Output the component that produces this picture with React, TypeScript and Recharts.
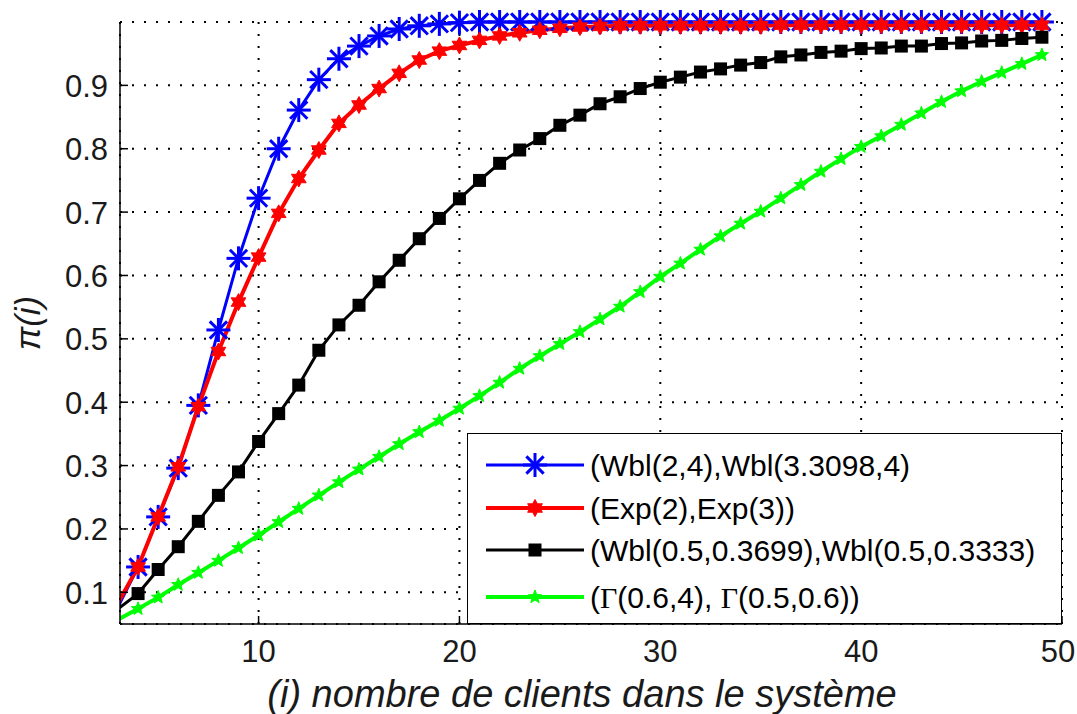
import { CartesianGrid, Legend, Line, LineChart, XAxis, YAxis } from "recharts";

// number of clients i in the system
const clients = [
  3, 4, 5, 6, 7, 8, 9, 10, 11, 12, 13, 14, 15, 16, 17, 18, 19, 20, 21, 22, 23, 24, 25, 26,
  27, 28, 29, 30, 31, 32, 33, 34, 35, 36, 37, 38, 39, 40, 41, 42, 43, 44, 45, 46, 47, 48, 49,
];

// π(i) for each pair of laws
const wblShort = [
  0.077, 0.14, 0.219, 0.296, 0.395, 0.514, 0.627, 0.722, 0.8, 0.861, 0.909, 0.942, 0.962, 0.978,
  0.989, 0.994, 0.997, 0.999, 1, 1, 1, 1, 1, 1, 1, 1, 1, 1, 1, 1, 1, 1, 1, 1, 1, 1, 1, 1, 1, 1, 1,
  1, 1, 1, 1, 1, 1,
];
const expo = [
  0.083, 0.14, 0.219, 0.298, 0.393, 0.48, 0.558, 0.629, 0.698, 0.753, 0.798, 0.84, 0.869, 0.895,
  0.919, 0.94, 0.954, 0.963, 0.971, 0.978, 0.983, 0.987, 0.99, 0.992, 0.993, 0.994, 0.994, 0.994,
  0.994, 0.994, 0.994, 0.994, 0.994, 0.995, 0.995, 0.995, 0.995, 0.995, 0.995, 0.995, 0.995,
  0.995, 0.995, 0.995, 0.995, 0.995, 0.995,
];
const wblHeavy = [
  0.074, 0.098, 0.136, 0.172, 0.212, 0.253, 0.29, 0.338, 0.382, 0.427, 0.482, 0.522, 0.553, 0.59,
  0.624, 0.658, 0.69, 0.721, 0.75, 0.777, 0.798, 0.816, 0.837, 0.853, 0.871, 0.882, 0.895, 0.905,
  0.913, 0.921, 0.926, 0.932, 0.936, 0.945, 0.948, 0.952, 0.954, 0.958, 0.959, 0.962, 0.962,
  0.966, 0.967, 0.97, 0.971, 0.974, 0.976,
];
const gamma = [
  0.057, 0.074, 0.092, 0.112, 0.131, 0.15, 0.17, 0.19, 0.211, 0.232, 0.253, 0.274, 0.294, 0.314,
  0.334, 0.353, 0.371, 0.39, 0.41, 0.431, 0.453, 0.473, 0.492, 0.511, 0.531, 0.551, 0.574, 0.598,
  0.619, 0.641, 0.662, 0.682, 0.701, 0.722, 0.743, 0.764, 0.784, 0.803, 0.82, 0.838, 0.856,
  0.874, 0.891, 0.906, 0.92, 0.934, 0.948,
];

const seriesNames = [
  "(Wbl(2,4),Wbl(3.3098,4)",
  "(Exp(2),Exp(3))",
  "(Wbl(0.5,0.3699),Wbl(0.5,0.3333)",
  "(Γ(0.6,4), Γ(0.5,0.6))",
];

const xTicks = [10, 20, 30, 40, 50];
const yTicks = [0.1, 0.2, 0.3, 0.4, 0.5, 0.6, 0.7, 0.8, 0.9];

const X_MIN = 3.1;
const FONT = '"Liberation Sans", Arial, Helvetica, sans-serif';
const BLUE = "#0000ff";
const RED = "#ff0000";
const GREEN = "#00ff00";

const data = clients.map((i, k) => ({
  i,
  wbl: wblShort[k],
  exp: expo[k],
  wblh: wblHeavy[k],
  gam: gamma[k],
}));

const series = [
  { key: "wbl", color: BLUE, width: 3, marker: "asterisk" },
  { key: "exp", color: RED, width: 4, marker: "hexagram" },
  { key: "wblh", color: "#000000", width: 3, marker: "square" },
  { key: "gam", color: GREEN, width: 4, marker: "pentagram" },
];

function starPoints(cx: number, cy: number, n: number, ro: number, ri: number) {
  const pts: string[] = [];
  for (let k = 0; k < n * 2; k++) {
    const r = k % 2 === 0 ? ro : ri;
    const a = -Math.PI / 2 + (k * Math.PI) / n;
    pts.push(`${cx + r * Math.cos(a)},${cy + r * Math.sin(a)}`);
  }
  return pts.join(" ");
}

function Marker({ kind, cx, cy }: { kind: string; cx: number; cy: number }) {
  if (kind === "asterisk") {
    const r = 12;
    const d = r * 0.72;
    return (
      <g stroke={BLUE} strokeWidth={3}>
        <line x1={cx - r} y1={cy} x2={cx + r} y2={cy} />
        <line x1={cx} y1={cy - r} x2={cx} y2={cy + r} />
        <line x1={cx - d} y1={cy - d} x2={cx + d} y2={cy + d} />
        <line x1={cx - d} y1={cy + d} x2={cx + d} y2={cy - d} />
      </g>
    );
  }
  if (kind === "hexagram") {
    return <polygon points={starPoints(cx, cy, 6, 8.5, 4.8)} fill={RED} stroke={RED} strokeWidth={1} />;
  }
  if (kind === "square") {
    return <rect x={cx - 6.5} y={cy - 6.5} width={13} height={13} fill="#000" />;
  }
  return <polygon points={starPoints(cx, cy, 5, 7, 3)} fill={GREEN} stroke={GREEN} strokeWidth={1} />;
}

// markers left of the visible x range are not drawn
const markerDot = (kind: string) => (props: any) => {
  const { cx, cy, payload, index } = props;
  if (cx == null || cy == null || payload.i < X_MIN) return <g key={`m-${index}`} />;
  return <Marker key={`m-${index}`} kind={kind} cx={cx} cy={cy} />;
};

const TICK_STROKE = { stroke: "#000", strokeWidth: 1.5 };

const BottomTick = ({ x, y, payload }: any) => (
  <g>
    <line x1={x} y1={y} x2={x} y2={y - 8} {...TICK_STROKE} />
    <text x={Math.min(x, 1058)} y={y + 38} textAnchor="middle" fontSize={31} fill="#1a1a1a" fontFamily={FONT}>
      {payload.value}
    </text>
  </g>
);

const TopTick = ({ x, y }: any) => <line x1={x} y1={y} x2={x} y2={y + 8} {...TICK_STROKE} />;

const LeftTick = ({ x, y, payload }: any) => (
  <g>
    <line x1={x} y1={y} x2={x + 8} y2={y} {...TICK_STROKE} />
    <text x={x - 12} y={y + 11.5} textAnchor="end" fontSize={31} fill="#1a1a1a" fontFamily={FONT}>
      {payload.value.toFixed(1)}
    </text>
  </g>
);

const RightTick = ({ x, y }: any) => <line x1={x} y1={y} x2={x - 8} y2={y} {...TICK_STROKE} />;

function LegendText({ text, x, y }: { text: string; x: number; y: number }) {
  const parts = text.split("Γ");
  return (
    <text x={x} y={y} fontSize={30} fill="#000" fontFamily={FONT}>
      {parts.map((p, k) => (
        <tspan key={k}>
          {k > 0 && <tspan fontFamily='"Liberation Serif", "Times New Roman", serif'>Γ</tspan>}
          {p}
        </tspan>
      ))}
    </text>
  );
}

const rowY = [31, 74, 116, 163];

function LegendBox() {
  return (
    <div
      style={{
        width: 595,
        height: 191,
        boxSizing: "border-box",
        border: "1.5px solid #000",
        background: "#fff",
      }}
    >
      <svg width={592} height={188} style={{ display: "block" }}>
        {series.map((s, k) => (
          <g key={s.key}>
            <line x1={18} y1={rowY[k]} x2={116} y2={rowY[k]} stroke={s.color} strokeWidth={s.width} />
            <Marker kind={s.marker} cx={67} cy={rowY[k]} />
            <LegendText text={seriesNames[k]} x={122} y={rowY[k] + 11} />
          </g>
        ))}
      </svg>
    </div>
  );
}

export default function App() {
  return (
    <div style={{ position: "absolute", left: 0, top: 0, width: 1077, height: 714, overflow: "hidden", background: "#fff" }}>
      <LineChart width={1077} height={714} data={data} margin={{ top: 22, right: 15, bottom: 0, left: 0 }}>
        <CartesianGrid stroke="#000" strokeWidth={2} strokeDasharray="2 10" />
        <XAxis
          dataKey="i"
          type="number"
          domain={[X_MIN, 50]}
          allowDataOverflow
          ticks={xTicks}
          interval={0}
          height={90}
          tickSize={0}
          tickMargin={0}
          tickLine={false}
          axisLine={TICK_STROKE}
          tick={<BottomTick />}
          label={{
            content: ({ viewBox }: any) => (
              <text
                x={viewBox.x + viewBox.width / 2 - 9}
                y={viewBox.y + viewBox.height - 7}
                textAnchor="middle"
                fontSize={38}
                fontStyle="italic"
                fill="#1a1a1a"
                fontFamily={FONT}
              >
                (i) nombre de clients dans le système
              </text>
            ),
          }}
        />
        <XAxis
          xAxisId="top"
          orientation="top"
          dataKey="i"
          type="number"
          domain={[X_MIN, 50]}
          allowDataOverflow
          ticks={xTicks}
          interval={0}
          height={0}
          tickSize={0}
          tickMargin={0}
          tickLine={false}
          axisLine={TICK_STROKE}
          tick={<TopTick />}
        />
        <YAxis
          type="number"
          domain={[0.05, 1]}
          ticks={yTicks}
          interval={0}
          width={120}
          tickSize={0}
          tickMargin={0}
          tickLine={false}
          axisLine={TICK_STROKE}
          tick={<LeftTick />}
          label={{
            content: ({ viewBox }: any) => {
              const cx = 40;
              const cy = viewBox.y + viewBox.height / 2;
              return (
                <text
                  x={cx}
                  y={cy}
                  transform={`rotate(-90, ${cx}, ${cy})`}
                  textAnchor="middle"
                  fontSize={35}
                  fontStyle="italic"
                  fill="#1a1a1a"
                  fontFamily={FONT}
                >
                  π(i)
                </text>
              );
            },
          }}
        />
        <YAxis
          yAxisId="right"
          orientation="right"
          type="number"
          domain={[0.05, 1]}
          ticks={yTicks}
          interval={0}
          width={0}
          tickSize={0}
          tickMargin={0}
          tickLine={false}
          axisLine={TICK_STROKE}
          tick={<RightTick />}
        />
        {series.map((s, k) => (
          <Line
            key={s.key}
            type="linear"
            dataKey={s.key}
            name={seriesNames[k]}
            stroke={s.color}
            strokeWidth={s.width}
            dot={markerDot(s.marker)}
            activeDot={false}
            isAnimationActive={false}
          />
        ))}
        <Legend
          layout="horizontal"
          verticalAlign="middle"
          align="center"
          content={() => <LegendBox />}
          wrapperStyle={{ left: 467, top: 433, width: 595, height: 191 }}
        />
      </LineChart>
    </div>
  );
}
